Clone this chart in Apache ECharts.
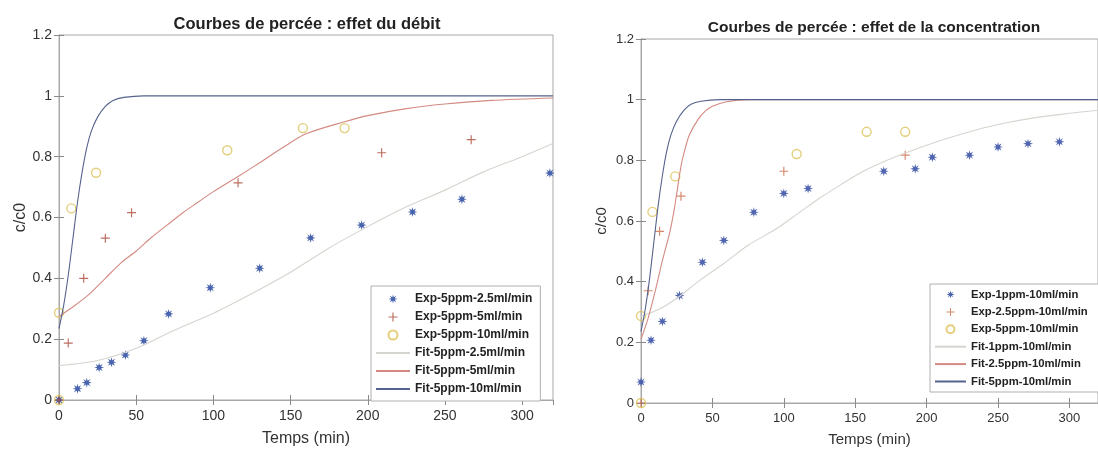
<!DOCTYPE html>
<html>
<head>
<meta charset="utf-8">
<title>Courbes de percée</title>
<script src="https://cdn.jsdelivr.net/npm/echarts@6/dist/echarts.min.js"></script>
<style>
    html, body { margin: 0; padding: 0; background: #fff; }
    #chart { width: 1098px; height: 452px; }
</style>
</head>
<body>
<div id="chart"></div>
<script>
/* graduations */
const xTicks = [0, 50, 100, 150, 200, 250, 300];
const yTicks = [0, 0.2, 0.4, 0.6, 0.8, 1, 1.2];
const xMax = 320;

/* effet du débit (5 ppm) - points expérimentaux */
const tExpQ25 = [0, 12, 18, 26, 34, 43, 55, 71, 98, 130, 163, 196, 229, 261, 318];
const cExpQ25 = [0, 0.037, 0.057, 0.107, 0.124, 0.148, 0.195, 0.283, 0.369, 0.433, 0.533, 0.575, 0.618, 0.660, 0.746];
const tExpQ5 = [0, 6, 16, 30, 47, 116, 209, 267];
const cExpQ5 = [0, 0.187, 0.40, 0.532, 0.616, 0.714, 0.813, 0.856];
const tExpQ10 = [0, 0, 8, 24, 109, 158, 185];
const cExpQ10 = [0, 0.287, 0.63, 0.747, 0.821, 0.894, 0.894];

/* effet du débit - modèles */
const tFitQ25 = [0, 25, 50, 75, 100, 125, 150, 175, 200, 225, 250, 275, 300, 320];
const cFitQ25 = [0.113, 0.13, 0.17, 0.23, 0.285, 0.35, 0.42, 0.50, 0.57, 0.635, 0.69, 0.75, 0.80, 0.843];
const tFitQ5 = [0, 10, 20, 30, 40, 50, 60, 70, 80, 90, 100, 116, 130, 145, 160, 185, 200, 225, 250, 280, 320];
const cFitQ5 = [0.275, 0.31, 0.35, 0.40, 0.45, 0.49, 0.535, 0.575, 0.615, 0.65, 0.685, 0.735, 0.78, 0.83, 0.875, 0.915, 0.935, 0.958, 0.973, 0.985, 0.993];
const tFitQ10 = [0, 3, 6, 9, 12, 15, 18, 21, 25, 30, 35, 42, 55, 100, 200, 320];
const cFitQ10 = [0.235, 0.31, 0.41, 0.53, 0.65, 0.75, 0.83, 0.885, 0.93, 0.965, 0.985, 0.995, 1, 1, 1, 1];

/* effet de la concentration (10 ml/min) */
const tExpC1 = [0, 7, 15, 27, 43, 58, 79, 100, 117, 170, 192, 204, 230, 250, 271, 293];
const cExpC1 = [0.069, 0.207, 0.269, 0.354, 0.464, 0.536, 0.629, 0.691, 0.707, 0.764, 0.772, 0.81, 0.817, 0.844, 0.855, 0.861];
const tExpC25 = [0, 5, 13, 28, 100, 185];
const cExpC25 = [0, 0.37, 0.566, 0.682, 0.764, 0.817];
const tFitC1 = [0, 15, 27, 40, 58, 75, 95, 110, 125, 140, 156, 180, 203, 227, 250, 275, 300, 320];
const cFitC1 = [0.285, 0.315, 0.352, 0.40, 0.46, 0.52, 0.575, 0.625, 0.675, 0.72, 0.765, 0.815, 0.855, 0.89, 0.918, 0.94, 0.955, 0.965];
const tFitC25 = [0, 5, 10, 15, 20, 23, 25, 28, 31, 34, 40, 45, 50, 60, 75, 100, 200, 320];
const cFitC25 = [0.21, 0.28, 0.37, 0.47, 0.56, 0.63, 0.69, 0.78, 0.84, 0.885, 0.935, 0.962, 0.978, 0.993, 1, 1, 1, 1];

const namesQ = ['Exp-5ppm-2.5ml/min', 'Exp-5ppm-5ml/min', 'Exp-5ppm-10ml/min',
    'Fit-5ppm-2.5ml/min', 'Fit-5ppm-5ml/min', 'Fit-5ppm-10ml/min'];
const namesC = ['Exp-1ppm-10ml/min', 'Exp-2.5ppm-10ml/min', 'Exp-5ppm-10ml/min',
    'Fit-1ppm-10ml/min', 'Fit-2.5ppm-10ml/min', 'Fit-5ppm-10ml/min'];

const FONT = '"Liberation Sans", Arial, Helvetica, sans-serif';

let pairs = function (t, c) {
    return t.map(function (x, i) { return [x, c[i]]; });
};

/* asterisque MATLAB : étoile à 8 branches */
let starPath = (function () {
    let pts = [];
    for (let k = 0; k < 16; k++) {
        let r = k % 2 === 0 ? 5 : 2.1;
        let a = Math.PI / 8 * k;
        pts.push((5 + r * Math.cos(a)).toFixed(2) + ',' + (5 + r * Math.sin(a)).toFixed(2));
    }
    return 'path://M' + pts.join(' L') + ' Z';
})();
const plusPath = 'path://M4.35,0 L5.65,0 L5.65,4.35 L10,4.35 L10,5.65 L5.65,5.65 L5.65,10 L4.35,10 L4.35,5.65 L0,5.65 L0,4.35 L4.35,4.35 Z';

let star = function (name, t, c, g, color) {
    return {
        name: name, type: 'scatter', xAxisIndex: g * 2, yAxisIndex: g * 2,
        symbol: starPath, symbolSize: 10, data: pairs(t, c),
        itemStyle: { color: color, opacity: 0.9 }
    };
};
let plus = function (name, t, c, g, color) {
    return {
        name: name, type: 'scatter', xAxisIndex: g * 2, yAxisIndex: g * 2,
        symbol: plusPath, symbolSize: 9, data: pairs(t, c),
        itemStyle: { color: color }
    };
};
let ring = function (name, t, c, g) {
    return {
        name: name, type: 'scatter', xAxisIndex: g * 2, yAxisIndex: g * 2,
        symbol: 'circle', symbolSize: 9, data: pairs(t, c),
        itemStyle: { color: 'rgba(255,255,255,0)', borderColor: '#dcc35a', borderWidth: 1.4 }
    };
};
let fit = function (name, t, c, g, color) {
    return {
        name: name, type: 'line', xAxisIndex: g * 2, yAxisIndex: g * 2,
        symbol: 'none', smooth: 0.3, data: pairs(t, c),
        lineStyle: { color: color, width: 1.1 }, itemStyle: { color: color }
    };
};

let axisX = function (g, top, fs, gap) {
    return {
        gridIndex: g, type: 'value', position: top ? 'top' : 'bottom',
        min: xTicks[0], max: xMax, interval: xTicks[1] - xTicks[0],
        axisLine: { show: true, lineStyle: { color: top ? '#a8a8a8' : '#8a8a8a' } },
        axisTick: { show: true, inside: true, length: 5, lineStyle: { color: '#8a8a8a' } },
        axisLabel: { show: !top, fontSize: fs, color: '#333', fontFamily: FONT, margin: 9, showMaxLabel: false },
        splitLine: { show: false },
        name: top ? '' : 'Temps (min)', nameLocation: 'middle', nameGap: gap,
        nameTextStyle: { fontSize: fs + 2, color: '#333', fontFamily: FONT }
    };
};
let axisY = function (g, right, fs, gap) {
    return {
        gridIndex: g, type: 'value', position: right ? 'right' : 'left',
        min: yTicks[0], max: yTicks[yTicks.length - 1], interval: yTicks[1] - yTicks[0],
        axisLine: { show: true, lineStyle: { color: '#a8a8a8' } },
        axisTick: { show: true, inside: true, length: 5, lineStyle: { color: '#8a8a8a' } },
        axisLabel: { show: !right, fontSize: fs, color: '#333', fontFamily: FONT, margin: 7 },
        splitLine: { show: false },
        name: right ? '' : 'c/c0', nameLocation: 'middle', nameGap: gap,
        nameTextStyle: { fontSize: fs + 2, color: '#333', fontFamily: FONT }
    };
};

/* entrées de légende : les modèles n'ont qu'un trait */
let legendData = function (names) {
    return names.map(function (n) {
        return n.indexOf('Fit') === 0 ? { name: n, itemStyle: { opacity: 0 } } : { name: n };
    });
};

let box = document.getElementById('chart');
let myChart = echarts.init(box, null, { renderer: 'canvas' });

let options = {
    animation: false,
    backgroundColor: '#fff',
    textStyle: { fontFamily: FONT },
    graphic: [
        {
            type: 'text', x: 307, y: 24,
            style: {
                text: 'Courbes de percée : effet du débit', font: 'bold 16.5px ' + FONT,
                fill: '#222', align: 'center', verticalAlign: 'middle',
                textAlign: 'center', textVerticalAlign: 'middle'
            }
        },
        {
            type: 'text', x: 874, y: 28,
            style: {
                text: 'Courbes de percée : effet de la concentration', font: 'bold 15.5px ' + FONT,
                fill: '#222', align: 'center', verticalAlign: 'middle',
                textAlign: 'center', textVerticalAlign: 'middle'
            }
        }
    ],
    grid: [
        { left: 59, top: 35, width: 494, height: 372, show: true, borderColor: '#a8a8a8', borderWidth: 1 },
        { left: 641, top: 39, width: 465, height: 364, show: true, borderColor: '#a8a8a8', borderWidth: 1 }
    ],
    xAxis: [axisX(0, false, 14, 31), axisX(0, true, 14, 31), axisX(1, false, 13, 29), axisX(1, true, 13, 29)],
    yAxis: [axisY(0, false, 14, 30), axisY(0, true, 14, 30), axisY(1, false, 13, 32), axisY(1, true, 13, 32)],
    legend: [
        {
            orient: 'vertical', left: 371, top: 286, padding: [7, 8, 6, 4],
            itemWidth: 34, itemHeight: 9, itemGap: 6,
            backgroundColor: '#fff', borderColor: '#b0b0b0', borderWidth: 1,
            textStyle: { fontSize: 12, fontWeight: 'bold', color: '#222', fontFamily: FONT },
            data: legendData(namesQ)
        },
        {
            orient: 'vertical', left: 930, top: 284, padding: [5, 30, 5, 4],
            itemWidth: 31, itemHeight: 8, itemGap: 6.4,
            backgroundColor: '#fff', borderColor: '#b0b0b0', borderWidth: 1,
            textStyle: { fontSize: 11.3, fontWeight: 'bold', color: '#222', fontFamily: FONT },
            data: legendData(namesC)
        }
    ],
    series: [
        star(namesQ[0], tExpQ25, cExpQ25, 0, '#3553a5'),
        plus(namesQ[1], tExpQ5, cExpQ5, 0, '#ad4a37'),
        ring(namesQ[2], tExpQ10, cExpQ10, 0),
        fit(namesQ[3], tFitQ25, cFitQ25, 0, '#d6d4ce'),
        fit(namesQ[4], tFitQ5, cFitQ5, 0, '#d48a82'),
        fit(namesQ[5], tFitQ10, cFitQ10, 0, '#56628e'),

        star(namesC[0], tExpC1, cExpC1, 1, '#3d55a8'),
        plus(namesC[1], tExpC25, cExpC25, 1, '#cc6a48'),
        ring(namesC[2], tExpQ10, cExpQ10, 1),
        fit(namesC[3], tFitC1, cFitC1, 1, '#d6d4ce'),
        fit(namesC[4], tFitC25, cFitC25, 1, '#d48a82'),
        fit(namesC[5], tFitQ10, cFitQ10, 1, '#56628e')
    ]
};
myChart.setOption(options);
</script>
</body>
</html>
